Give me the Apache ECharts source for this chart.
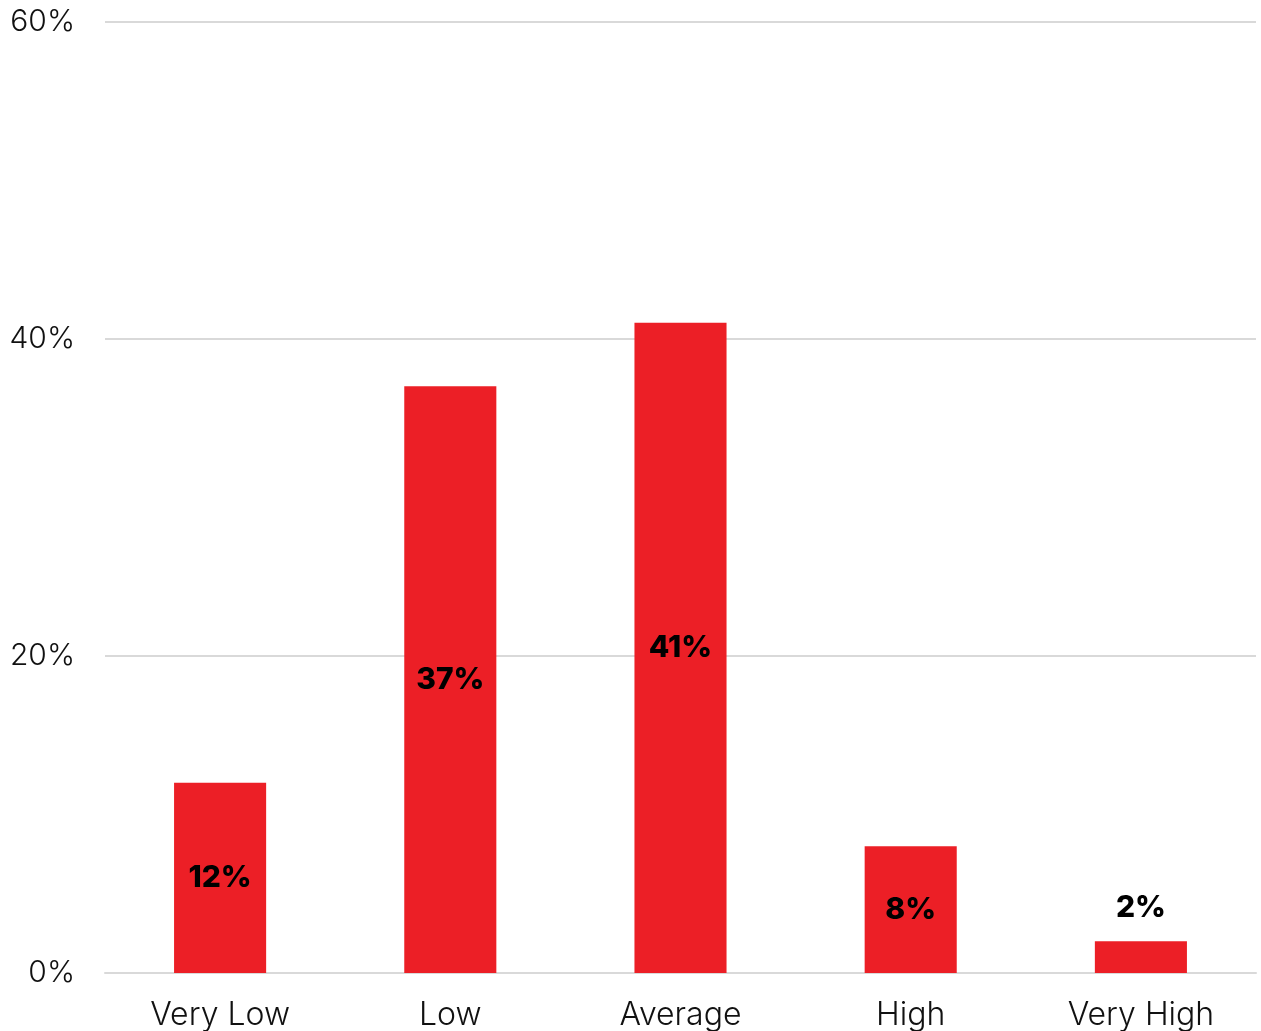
<!DOCTYPE html>
<html><head><meta charset="utf-8">
<script src="https://cdn.jsdelivr.net/npm/echarts@6/dist/echarts.min.js"></script>
<style>html,body{margin:0;padding:0;background:#fff}#c{width:1261px;height:1031px}</style>
</head><body><div id="c"></div>
<script>
const categories = ['Very Low', 'Low', 'Average', 'High', 'Very High'];
const values = [12, 37, 41, 8, 2];
const labelPositions = ['inside', 'inside', 'inside', 'inside', 'top'];
const yTicks = [0, 20, 40, 60];

const chart = echarts.init(document.getElementById('c'));
chart.setOption({
  animation: false,
  grid: { left: 105, right: 5, top: 21.5, bottom: 57.5, containLabel: false },
  xAxis: {
    type: 'category', data: categories,
    axisTick: { show: false },
    axisLine: { show: true, lineStyle: { color: '#d9d9d9', width: 2 } },
    axisLabel: { color: '#111', fontSize: 32, fontFamily: 'Inter', fontWeight: 300, margin: 26 }
  },
  yAxis: {
    type: 'value', min: yTicks[0], max: yTicks[yTicks.length - 1], interval: 20,
    axisLine: { show: false }, axisTick: { show: false },
    splitLine: { lineStyle: { color: '#d9d9d9', width: 2 } },
    axisLabel: { color: '#111', fontSize: 30, fontFamily: 'Inter', fontWeight: 300, margin: 30, formatter: '{value}%' }
  },
  series: [{
    type: 'bar', barWidth: '40%',
    data: values.map((v, i) => ({
      value: v,
      label: { show: true, position: labelPositions[i], distance: 18 }
    })),
    itemStyle: { color: '#EC1F26' },
    label: { formatter: '{c}%', color: '#000', fontSize: 30, fontWeight: 800, fontFamily: 'Inter' }
  }]
});
</script></body></html>
